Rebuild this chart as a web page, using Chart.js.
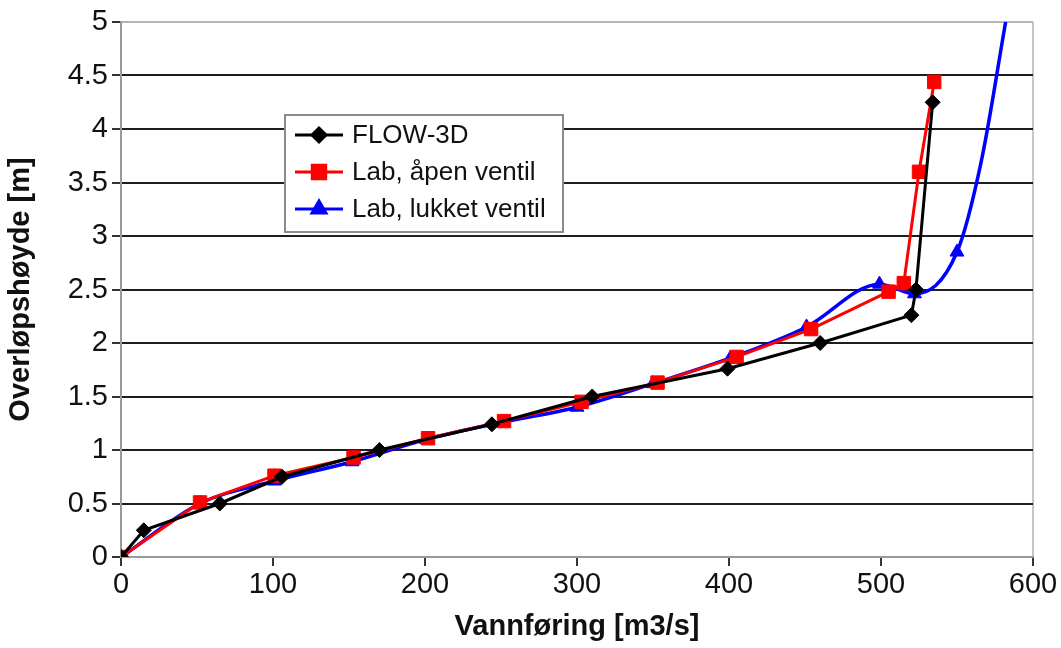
<!DOCTYPE html>
<html lang="no">
<head>
<meta charset="utf-8">
<script src="https://cdn.jsdelivr.net/npm/chart.js@4.4.1/dist/chart.umd.min.js"></script>
<style>
  body { margin: 0; background: #fff; }
  #wrap { width: 1061px; height: 648px; }
</style>
</head>
<body>
<div id="wrap"><canvas id="rating" width="1061" height="648"></canvas></div>
<script>
"use strict";

// FLOW-3D simulation
const flowQ = [0, 15, 65, 106, 170, 244, 310, 399, 460, 520, 523, 534];
const flowH = [0, 0.25, 0.5, 0.75, 1.0, 1.24, 1.5, 1.76, 2.0, 2.26, 2.5, 4.25];

// lab run, valve open
const openQ = [0, 52, 101, 153, 202, 252, 303, 353, 405, 454, 505, 515, 525, 535];
const openH = [0, 0.51, 0.76, 0.93, 1.11, 1.27, 1.45, 1.63, 1.87, 2.13, 2.48, 2.56, 3.6, 4.44];

// lab run, valve closed (last two readings have no marker)
const closedQ = [0, 52, 101, 152, 201, 251, 300, 350, 401, 451, 499, 522, 550, 566, 582];
const closedH = [0, 0.5, 0.71, 0.89, 1.1, 1.26, 1.4, 1.62, 1.86, 2.15, 2.55, 2.46, 2.85, 3.7, 5.0];
const closedMarked = 13;

const seriesNames = ["FLOW-3D", "Lab, åpen ventil", "Lab, lukket ventil"];

const xTicks = [0, 100, 200, 300, 400, 500, 600];
const yTicks = [0, 0.5, 1, 1.5, 2, 2.5, 3, 3.5, 4, 4.5, 5];

const xTitle = "Vannføring [m3/s]";
const yTitle = "Overløpshøyde [m]";

const FONT = "'Liberation Sans', Arial, sans-serif";

function toPoints(xs, ys) {
  return xs.map((x, i) => ({ x: x, y: ys[i] }));
}

// -------------------------------------------------------------------
// Legend box drawn inside the plot
// -------------------------------------------------------------------
const legendBox = {
  id: "legendBox",
  afterDraw(chart) {
    const ctx = chart.ctx;
    const left = 285, top = 115, w = 278, h = 117;
    ctx.save();
    ctx.fillStyle = "#fff";
    ctx.fillRect(left, top, w, h);
    ctx.strokeStyle = "#8c8c8c";
    ctx.lineWidth = 2;
    ctx.strokeRect(left, top, w, h);

    chart.data.datasets.forEach((ds, i) => {
      const y = top + 20 + i * 37;
      ctx.strokeStyle = ds.borderColor;
      ctx.lineWidth = 3;
      ctx.beginPath();
      ctx.moveTo(295, y);
      ctx.lineTo(343, y);
      ctx.stroke();

      ctx.fillStyle = ds.borderColor;
      ctx.strokeStyle = ds.borderColor;
      Chart.helpers.drawPoint(ctx, {
        pointStyle: ds.pointStyle,
        radius: ds.legendRadius,
        rotation: 0,
        borderWidth: 1
      }, 319, y);

      ctx.fillStyle = "#111";
      ctx.font = "26px " + FONT;
      ctx.textBaseline = "middle";
      ctx.textAlign = "left";
      ctx.fillText(ds.label, 352, y + 1);
    });
    ctx.restore();
  }
};

// -------------------------------------------------------------------
// Chart
// -------------------------------------------------------------------
const datasets = [
  {
    label: seriesNames[0],
    data: toPoints(flowQ, flowH),
    borderColor: "#000",
    backgroundColor: "#000",
    pointStyle: "rectRot",
    pointRadius: 7.5,
    legendRadius: 7,
    borderWidth: 3,
    tension: 0
  },
  {
    label: seriesNames[1],
    data: toPoints(openQ, openH),
    borderColor: "#ff0000",
    backgroundColor: "#ff0000",
    pointStyle: "rect",
    pointRadius: 9.5,
    legendRadius: 9.5,
    borderWidth: 3,
    tension: 0
  },
  {
    label: seriesNames[2],
    data: toPoints(closedQ, closedH),
    borderColor: "#0000ff",
    backgroundColor: "#0000ff",
    pointStyle: "triangle",
    pointRadius: closedQ.map((q, i) => (i < closedMarked ? 8 : 0)),
    legendRadius: 8,
    borderWidth: 3.5,
    cubicInterpolationMode: "monotone"
  }
];

datasets.forEach(ds => {
  ds.fill = false;
  ds.pointBorderWidth = 1;
  ds.pointBackgroundColor = ds.borderColor;
  ds.pointBorderColor = ds.borderColor;
});

new Chart(document.getElementById("rating").getContext("2d"), {
  type: "line",
  data: { datasets },
  options: {
    responsive: false,
    animation: false,
    devicePixelRatio: 1,
    layout: { padding: { top: 22, right: 28, left: 0, bottom: 0 } },
    plugins: {
      legend: { display: false },
      tooltip: { enabled: false }
    },
    scales: {
      x: {
        type: "linear",
        min: 0,
        max: 600,
        afterBuildTicks: s => { s.ticks = xTicks.map(v => ({ value: v })); },
        afterFit: s => { s.height = 91; },
        ticks: {
          color: "#111",
          font: { family: FONT, size: 29 },
          padding: 2,
          maxRotation: 0,
          callback: v => String(v)
        },
        grid: {
          color: c => (c.tick && c.tick.value === 600 ? "#c6c6c6" : "rgba(0,0,0,0)"),
          lineWidth: 2,
          tickColor: "#333",
          tickLength: 9,
          drawTicks: true
        },
        border: { color: "#9a9a9a", width: 2 },
        title: {
          display: true,
          text: xTitle,
          color: "#111",
          font: { family: FONT, size: 29, weight: "bold" },
          padding: { top: 0 }
        }
      },
      y: {
        min: 0,
        max: 5,
        afterBuildTicks: s => { s.ticks = yTicks.map(v => ({ value: v })); },
        afterFit: s => { s.width = 121; },
        ticks: {
          color: "#111",
          font: { family: FONT, size: 29 },
          padding: 4,
          callback: v => String(v)
        },
        grid: {
          color: c => {
            if (!c.tick) return "#222";
            if (c.tick.value === 5) return "#b4b4b4";
            if (c.tick.value === 0) return "#9a9a9a";
            return "#1e1e1e";
          },
          lineWidth: 2,
          tickColor: "#333",
          tickLength: 9
        },
        border: { color: "#9a9a9a", width: 2 },
        title: {
          display: true,
          text: yTitle,
          color: "#111",
          font: { family: FONT, size: 29, weight: "bold" },
          padding: { bottom: 0 }
        }
      }
    }
  },
  plugins: [legendBox]
});
</script>
</body>
</html>
